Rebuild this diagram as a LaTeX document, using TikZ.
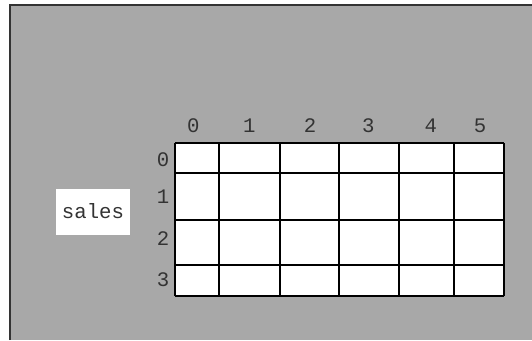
\documentclass[tikz,border=0pt]{standalone}
\usepackage{fontspec}
\setmonofont{Liberation Mono}
\definecolor{panel}{HTML}{A8A8A8}
\definecolor{ink}{HTML}{333333}
\tikzset{idx/.style={font=\ttfamily\fontsize{15.5}{15.5}\selectfont,text=ink,inner sep=0pt},
 gridline/.style={black,line width=1.5pt}}

\begin{document}
\begin{tikzpicture}[x=.75pt,y=-.75pt]
 \useasboundingbox(0,0)rectangle(532,340);
 \fill[panel](10,5)rectangle(532,340);
 \draw[ink,line width=1.6pt](10,340)--(10,5)--(532,5);
 % the table
 \fill[white](175,143.3)rectangle(504,296);
 \foreach \x in {175,218.7,280,338.7,398.7,454,504}
  \draw[gridline](\x,143.3)--(\x,296);
 \foreach \y in {143.3,172.7,220,265,296}
  \draw[gridline](175,\y)--(504,\y);
 % indices
 \foreach \i/\x in {0/193.3,1/249.3,2/310,3/368.3,4/430.7,5/480}
  \node[idx](c\i)at(\x,126){\i};
 \foreach \i/\y in {0/159.3,1/196.7,2/238.3,3/279.3}
  \node[idx](r\i)at(163,\y){\i};
 \node[idx,fill=white,minimum width=55.5pt,minimum height=34.5pt](sales)at(93,211.5){sales};
\end{tikzpicture}
\end{document}
